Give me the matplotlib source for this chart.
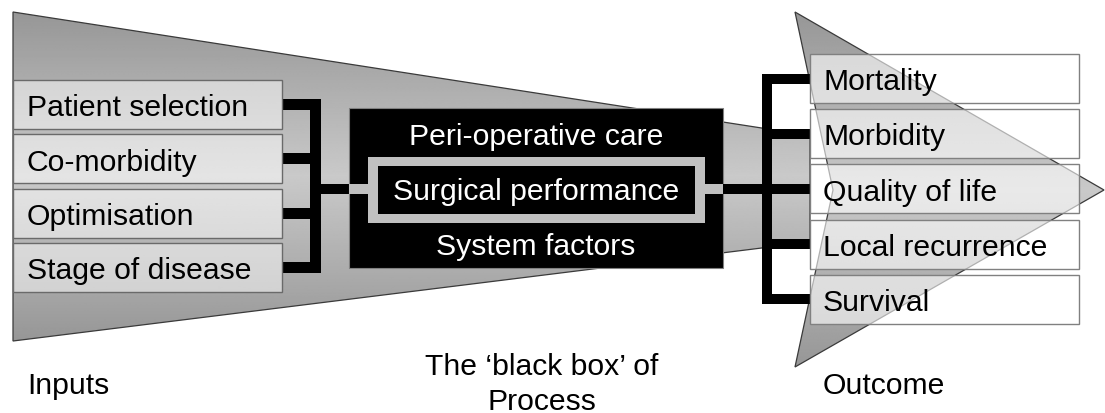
import numpy as np
import matplotlib
matplotlib.use('Agg')
import matplotlib.pyplot as plt
from matplotlib.patches import Polygon, Rectangle

# ---- content ----
inputs = ["Patient selection", "Co-morbidity", "Optimisation", "Stage of disease"]
process = ["Peri-operative care", "Surgical performance", "System factors"]
outcomes = ["Mortality", "Morbidity", "Quality of life", "Local recurrence", "Survival"]
stage_labels = ["Inputs", "The \u2018black box\u2019 of\nProcess", "Outcome"]

W, H = 1105, 414
fig = plt.figure(figsize=(W / 100, H / 100), dpi=100)
ax = fig.add_axes([0, 0, 1, 1])
ax.axis('off')

FONT = 'Liberation Sans'
FS = 21.7


def grad_poly(pts, y0, y1, yc, dark=0.59, light=0.79, z=1):
    poly = Polygon(pts, closed=True, facecolor='none', edgecolor='#3a3a3a',
                   lw=0.9, zorder=z + 0.1)
    ax.add_patch(poly)
    ys = np.linspace(y0, y1, 400)
    t = np.where(ys < yc, (ys - y0) / (yc - y0), (y1 - ys) / (y1 - yc))
    g = dark + (light - dark) * t
    img = np.repeat(g[:, None], 2, axis=1)
    xs = [p[0] for p in pts]
    im = ax.imshow(img, cmap='gray', vmin=0, vmax=1, origin='upper',
                   extent=(min(xs), max(xs), y1, y0), aspect='auto',
                   zorder=z, interpolation='bilinear')
    im.set_clip_path(poly)


# funnel (inputs -> process)
grad_poly([(13, 13), (810, 136.5), (810, 243), (13, 342)], 13, 342, 177, z=1)

# left connectors
left_top, left_h, left_gap = 81, 49, 54.3
left_centers = [left_top + i * left_gap + left_h / 2 for i in range(len(inputs))]
ax.add_patch(Rectangle((310, left_centers[0] - 5.5), 11,
                       left_centers[-1] - left_centers[0] + 11, fc='black', zorder=2))
for c in left_centers:
    ax.add_patch(Rectangle((282, c - 5.5), 39, 11, fc='black', zorder=2))
ax.add_patch(Rectangle((320, 185), 30, 10, fc='black', zorder=2))

# input boxes
for i, lab in enumerate(inputs):
    y = left_top + i * left_gap
    ax.add_patch(Rectangle((13, y), 269, left_h, facecolor=(1, 1, 1, 0.5),
                           edgecolor='#6a6a6a', lw=1.0, zorder=3))
    ax.text(27, y + left_h / 2 + 10.75, lab, fontsize=FS, family=FONT,
            va='baseline', ha='left', color='black', zorder=8)

# black box of process
ax.add_patch(Rectangle((349, 109), 374, 160, fc='black', ec='#808080', lw=0.8, zorder=4))
ax.add_patch(Rectangle((368, 158), 337, 66, fc='#c0c0c0', zorder=4.1))
ax.add_patch(Rectangle((378, 167), 317, 48, fc='black', zorder=4.2))
ax.add_patch(Rectangle((349, 185), 19, 10, fc='#c0c0c0', zorder=4.1))
ax.add_patch(Rectangle((705, 185), 18, 10, fc='#c0c0c0', zorder=4.1))
for lab, base in zip(process, [145, 200, 255]):
    ax.text(536, base, lab, fontsize=FS, family=FONT, va='baseline',
            ha='center', color='white', zorder=8)

# outcome arrow
grad_poly([(795, 13), (1104, 191), (795, 368), (833, 191)], 13, 368, 191, z=5)

# right connectors
right_top, right_h, right_gap = 55, 49, 55.2
right_centers = [right_top + i * right_gap + right_h / 2 for i in range(len(outcomes))]
ax.add_patch(Rectangle((723, 185), 49, 10, fc='black', zorder=6))
ax.add_patch(Rectangle((762, right_centers[0] - 5), 10,
                       right_centers[-1] - right_centers[0] + 10, fc='black', zorder=6))
for c in right_centers:
    ax.add_patch(Rectangle((772, c - 5), 38, 10, fc='black', zorder=6))

# outcome boxes
for i, lab in enumerate(outcomes):
    y = right_top + i * right_gap
    ax.add_patch(Rectangle((810, y), 269, right_h, facecolor=(1, 1, 1, 0.6),
                           edgecolor='#808080', lw=1.0, zorder=7))
    ax.text(823, y + right_h / 2 + 10.75, lab, fontsize=FS, family=FONT,
            va='baseline', ha='left', color='black', zorder=8)

# stage labels
ax.text(27, 394, stage_labels[0], fontsize=FS, family=FONT, va='baseline', ha='left')
for k, line in enumerate(stage_labels[1].split('\n')):
    ax.text(542, 375 + 35 * k, line, fontsize=FS, family=FONT, va='baseline', ha='center')
ax.text(823, 394, stage_labels[2], fontsize=FS, family=FONT, va='baseline', ha='left')

ax.set_xlim(0, W)
ax.set_ylim(H, 0)
fig.savefig('out.png', dpi=100, facecolor='white')
